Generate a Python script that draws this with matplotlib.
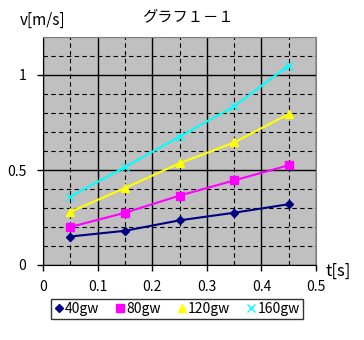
import matplotlib
matplotlib.use("Agg")
import matplotlib.pyplot as plt
from matplotlib.ticker import MultipleLocator

plt.rcParams['font.family'] = ['Noto Sans CJK JP', 'DejaVu Sans']

t = [0.05, 0.15, 0.25, 0.35, 0.45]
v_40 = [0.15, 0.18, 0.235, 0.275, 0.32]
v_80 = [0.20, 0.275, 0.365, 0.445, 0.525]
v_120 = [0.28, 0.405, 0.535, 0.645, 0.795]
v_160 = [0.36, 0.515, 0.675, 0.835, 1.05]
labels = ['40gw', '80gw', '120gw', '160gw']

fig = plt.figure(figsize=(3.64, 3.40), dpi=100)
ax = fig.add_axes([43 / 364, 1 - 265 / 340, 273 / 364, 228 / 340])
ax.set_facecolor('#C0C0C0')

ax.set_xlim(0, 0.5)
ax.set_ylim(0, 1.2)
ax.xaxis.set_major_locator(MultipleLocator(0.1))
ax.xaxis.set_minor_locator(MultipleLocator(0.05))
ax.yaxis.set_major_locator(MultipleLocator(0.5))
ax.yaxis.set_minor_locator(MultipleLocator(0.1))

ax.grid(which='major', color='black', linestyle='-', linewidth=1)
ax.grid(which='minor', color='black', linestyle=(0, (4, 3)), linewidth=0.8)
ax.set_axisbelow(True)
ax.tick_params(which='minor', length=0)
ax.tick_params(which='major', length=4, width=1, direction='out', labelsize=10)
ax.set_xticks([0, 0.1, 0.2, 0.3, 0.4, 0.5])
ax.set_xticklabels(['0', '0.1', '0.2', '0.3', '0.4', '0.5'])
ax.set_yticks([0, 0.5, 1])
ax.set_yticklabels(['0', '0.5', '1'])
ax.tick_params(axis='x', pad=7)
ax.tick_params(axis='y', pad=8)

for s in ['top', 'right']:
    ax.spines[s].set_color('#808080')
for s in ['left', 'bottom']:
    ax.spines[s].set_color('black')

ax.plot(t, v_40, color='#000080', marker='D', markersize=4, linewidth=1.5, label=labels[0])
ax.plot(t, v_80, color='#FF00FF', marker='s', markersize=6, linewidth=1.5, label=labels[1])
ax.plot(t, v_120, color='#FFFF00', marker='^', markersize=6, linewidth=1.5, label=labels[2])
ax.plot(t, v_160, color='#00FFFF', marker='x', markersize=6, linewidth=1.5, label=labels[3])

fig.text(188 / 364, 1 - 17 / 340, 'グラフ１－１', ha='center', va='center', fontsize=11)
fig.text(20 / 364, 1 - 20 / 340, 'v[m/s]', ha='left', va='center', fontsize=11)
fig.text(326 / 364, 1 - 271 / 340, 't[s]', ha='left', va='center', fontsize=12)

leg = fig.legend(loc='center', bbox_to_anchor=(177 / 364, 1 - 309 / 340), ncol=4,
                 frameon=True, fancybox=False, edgecolor='black', fontsize=10,
                 handlelength=0.6, handletextpad=0.15, columnspacing=1.2,
                 borderpad=0.25, borderaxespad=0)
leg.get_frame().set_linewidth(1)
for h in leg.legend_handles:
    h.set_linestyle('none')

fig.savefig('out.png', dpi=100)
